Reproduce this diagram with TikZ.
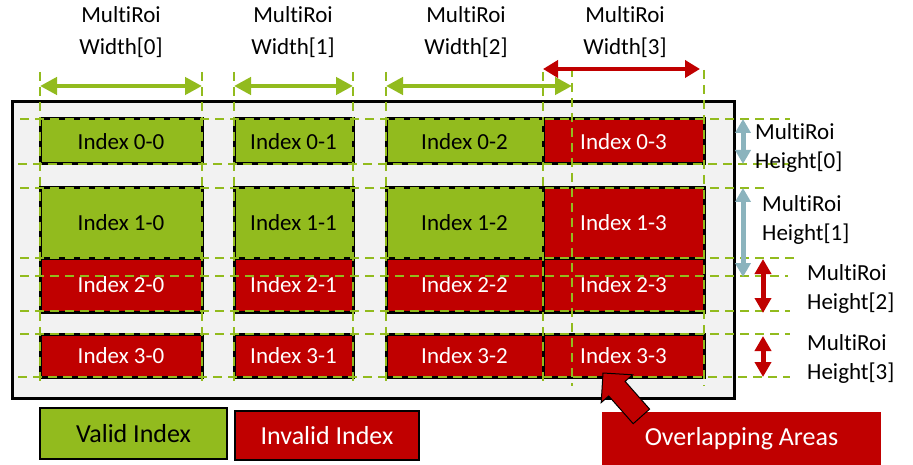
\documentclass[tikz,border=0pt]{standalone}
\usepackage{fontspec}
\setmainfont{Carlito}[RawFeature={-liga;-clig;-dlig}]
\usetikzlibrary{arrows.meta,positioning}
\definecolor{validgreen}{RGB}{146,187,30}
\definecolor{invalidred}{RGB}{192,0,0}
\definecolor{framegray}{RGB}{242,242,242}
\definecolor{heightblue}{RGB}{139,179,189}
\newcommand{\roiword}{Mult\kern0pt iRoi}
\tikzset{
  cell/.style={draw=black, line width=3pt, inner sep=0pt, font=\fontsize{23}{28}\selectfont},
  validcell/.style={cell, fill=validgreen, text=black},
  invalidcell/.style={cell, fill=invalidred, text=white},
  col0/.style={minimum width=162pt}, col1/.style={minimum width=119pt},
  col2/.style={minimum width=157pt}, col3/.style={minimum width=161pt},
  row0/.style={minimum height=45pt}, row1/.style={minimum height=70pt},
  row2/.style={minimum height=54pt}, row3/.style={minimum height=43pt},
  guide/.style={draw=validgreen, line width=1.8pt, dash pattern=on 9pt off 6pt},
  roilabel/.style={inner sep=0pt, font=\fontsize{23}{32}\selectfont},
  heightlabel/.style={inner sep=0pt, anchor=west, align=left, font=\fontsize{23}{29}\selectfont},
  widthgreen/.style={draw=validgreen, line width=4.5pt, {Triangle[length=17pt,width=17pt]}-{Triangle[length=17pt,width=17pt]}},
  widthred/.style={draw=invalidred, line width=4.5pt, {Triangle[length=15pt,width=17pt]}-{Triangle[length=15pt,width=17pt]}},
  heightgray/.style={draw=heightblue, line width=5pt, {Triangle[length=14pt,width=15pt]}-{Triangle[length=14pt,width=15pt]}},
  heightred/.style={draw=invalidred, line width=5pt, {Triangle[length=15pt,width=16pt]}-{Triangle[length=15pt,width=16pt]}},
  legendbox/.style={draw=black, line width=2.5pt, inner sep=0pt, font=\fontsize{26}{30}\selectfont}
}
\begin{document}
\begin{tikzpicture}[x=1pt, y=-1pt]
  \useasboundingbox (0,0) rectangle (913,465);
  % outer frame
  \node[draw=black, line width=3pt, fill=framegray, inner sep=0pt, minimum width=722pt, minimum height=296pt] (frame) at (373,250) {};

  % cells
  \node[validcell, col0, row0] (cell00) at (121,141.5) {Index 0-0};
  \node[validcell, col1, row0] (cell01) at (293.5,141.5) {Index 0-1};
  \node[validcell, col2, row0] (cell02) at (464.5,141.5) {Index 0-2};
  \node[invalidcell, col3, row0] (cell03) at (623.5,141.5) {Index 0-3};
  \node[validcell, col0, row1] (cell10) at (121,223) {Index 1-0};
  \node[validcell, col1, row1] (cell11) at (293.5,223) {Index 1-1};
  \node[validcell, col2, row1] (cell12) at (464.5,223) {Index 1-2};
  \node[invalidcell, col3, row1] (cell13) at (623.5,223) {Index 1-3};
  \node[invalidcell, col0, row2] (cell20) at (121,285) {Index 2-0};
  \node[invalidcell, col1, row2] (cell21) at (293.5,285) {Index 2-1};
  \node[invalidcell, col2, row2] (cell22) at (464.5,285) {Index 2-2};
  \node[invalidcell, col3, row2] (cell23) at (623.5,285) {Index 2-3};
  \node[invalidcell, col0, row3] (cell30) at (121,355.5) {Index 3-0};
  \node[invalidcell, col1, row3] (cell31) at (293.5,355.5) {Index 3-1};
  \node[invalidcell, col2, row3] (cell32) at (464.5,355.5) {Index 3-2};
  \node[invalidcell, col3, row3] (cell33) at (623.5,355.5) {Index 3-3};

  % guides
  \draw[guide] (40,72) -- (40,386);
  \draw[guide] (202,72) -- (202,386);
  \draw[guide] (234,72) -- (234,386);
  \draw[guide] (353,72) -- (353,386);
  \draw[guide] (386,72) -- (386,386);
  \draw[guide] (572,68) -- (572,386);
  \draw[guide] (543,72) -- (543,386);
  \draw[guide] (704,70) -- (704,386);
  \draw[guide] (20,119) -- (790,119);
  \draw[guide] (18,164) -- (790,164);
  \draw[guide] (20,188) -- (768,188);
  \draw[guide] (20,258) -- (798,258);
  \draw[guide] (20,276) -- (788,276);
  \draw[guide] (20,311) -- (790,311);
  \draw[guide] (20,334) -- (790,334);
  \draw[guide] (18,377) -- (790,377);

  % width labels and arrows
  \node[roilabel, align=center] (wlab0) at (121,32) {\roiword\\Width[0]};
  \node[roilabel, align=center] (wlab1) at (293,32) {\roiword\\Width[1]};
  \node[roilabel, align=center] (wlab2) at (466,32) {\roiword\\Width[2]};
  \node[roilabel, align=center] (wlab3) at (625,32) {\roiword\\Width[3]};
  \coordinate (w0a) at (40,86);  \coordinate (w0b) at (202,86);
  \coordinate (w1a) at (234,86); \coordinate (w1b) at (353,86);
  \coordinate (w2a) at (386,86); \coordinate (w2b) at (572,86);
  \coordinate (w3a) at (543,69); \coordinate (w3b) at (700,69);
  \draw[widthgreen] (w0a) -- (w0b);
  \draw[widthgreen] (w1a) -- (w1b);
  \draw[widthgreen] (w2a) -- (w2b);
  \draw[widthred] (w3a) -- (w3b);

  % height labels and arrows
  \node[heightlabel] (hlab0) at (755,147.5) {\roiword\\Height[0]};
  \node[heightlabel] (hlab1) at (762,220) {\roiword\\Height[1]};
  \node[heightlabel] (hlab2) at (807,289) {\roiword\\Height[2]};
  \node[heightlabel] (hlab3) at (807,358.5) {\roiword\\Height[3]};
  \coordinate (h0a) at (743,119); \coordinate (h0b) at (743,164);
  \coordinate (h1a) at (743,188); \coordinate (h1b) at (743,277);
  \coordinate (h2a) at (763,259); \coordinate (h2b) at (763,313);
  \coordinate (h3a) at (763,336); \coordinate (h3b) at (763,377);
  \draw[heightgray] (h0a) -- (h0b);
  \draw[heightgray] (h1a) -- (h1b);
  \draw[heightred] (h2a) -- (h2b);
  \draw[heightred] (h3a) -- (h3b);

  % legend
  \node[legendbox, fill=validgreen, minimum width=187pt, minimum height=51pt] (legvalid) at (133.5,433.5) {Valid Index};
  \node[legendbox, fill=invalidred, text=white, minimum width=184pt, minimum height=49pt] (leginvalid) at (327,435.5) {Invalid Index};
  \node[fill=invalidred, text=white, inner sep=0pt, minimum width=279pt, minimum height=53pt, font=\fontsize{26}{30}\selectfont] (overlap) at (741.5,438.5) {Overlapping Areas};

  % pointer
  \draw[fill=invalidred, line width=1pt, line join=miter] (603,373) -- (632.6,374.8) -- (625.1,381.4) -- (649.6,409.1) -- (633.2,423.7) -- (608.7,396) -- (601.2,402.6) -- cycle;
\end{tikzpicture}
\end{document}
